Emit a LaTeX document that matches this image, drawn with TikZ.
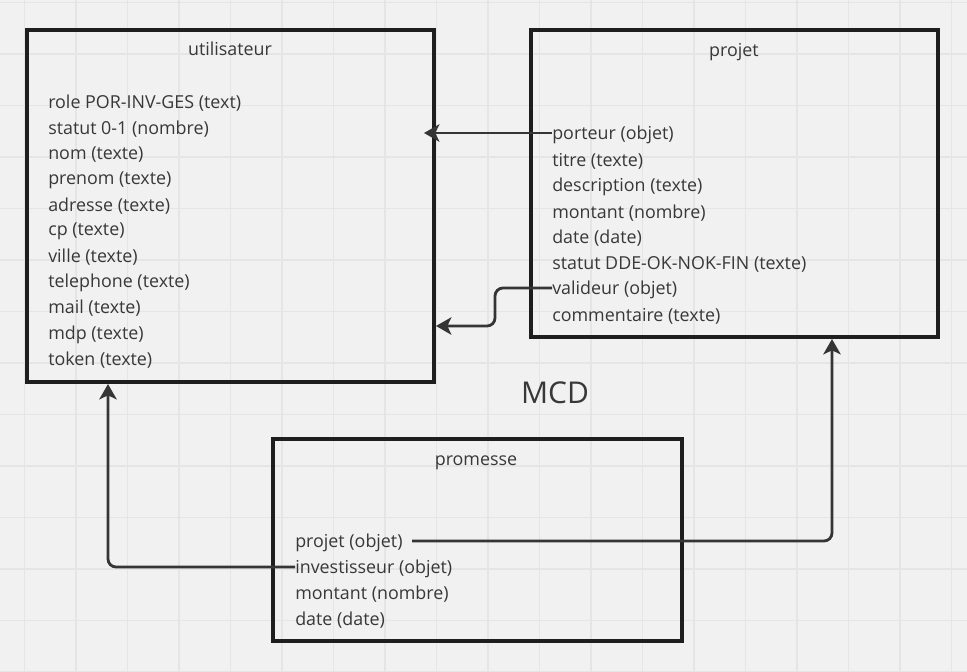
\documentclass[tikz,border=0pt]{standalone}
\usepackage{fontspec}
\setmainfont{Open Sans}
\usetikzlibrary{arrows.meta}
\definecolor{bg}{HTML}{F1F1F1}
\definecolor{gridc}{HTML}{E5E5E5}
\definecolor{ink}{HTML}{1E1E1E}
\definecolor{txt}{HTML}{383838}
\tikzset{
  entbox/.style={draw=ink, line width=2.6pt, minimum width=#1, anchor=north west, inner sep=0pt, outer sep=0pt},
  attr/.style={anchor=west, inner sep=0pt, text=txt, font=\fontsize{13.4pt}{15pt}\selectfont},
  ttl/.style={inner sep=0pt, text=txt, font=\fontsize{13.4pt}{15pt}\selectfont},
  link/.style={draw=ink!90, line width=2.1pt, rounded corners=6pt, -{Stealth[length=11.5pt,width=13pt,inset=3pt]}}
}
\begin{document}
\begin{tikzpicture}[x=0.75pt,y=-0.75pt]
\fill[bg] (0,0) rectangle (967,671);
\useasboundingbox (0,0) rectangle (967,671);
\foreach \k in {0,...,18} {\draw[gridc, line width=0.8pt] ({24.5+51.5*\k},0) -- ({24.5+51.5*\k},671);}
\foreach \k in {0,...,13} {\draw[gridc, line width=0.8pt] (0,{2.5+51.5*\k}) -- (967,{2.5+51.5*\k});}

% boxes
\node[entbox=305.25pt, minimum height=264pt] (ut) at (27,30) {};
\node[entbox=305.25pt, minimum height=230.25pt] (pj) at (531,30) {};
\node[entbox=306.75pt, minimum height=151.5pt] (pr) at (273,439) {};

% titles
\node[ttl] (utt) at (230,49) {utilisateur};
\node[ttl] (pjt) at (734,52) {projet};
\node[ttl] (prt) at (476,463) {promesse};
\node[inner sep=0pt, text=txt, font=\fontsize{22.5pt}{24pt}\selectfont] (mcd) at (555,393) {MCD};

% utilisateur attributes
\node[attr] (u1) at (48,103) {role POR-INV-GES (text)};
\node[attr] (u2) at (48,129) {statut 0-1 (nombre)};
\node[attr] (u3) at (48,154.5) {nom (texte)};
\node[attr] (u4) at (48,180.5) {prenom (texte)};
\node[attr] (u5) at (48,206) {adresse (texte)};
\node[attr] (u6) at (48,231.5) {cp (texte)};
\node[attr] (u7) at (48,257.5) {ville (texte)};
\node[attr] (u8) at (48,283) {telephone (texte)};
\node[attr] (u9) at (48,308.5) {mail (texte)};
\node[attr] (u10) at (48,334.5) {mdp (texte)};
\node[attr] (u11) at (48,360) {token (texte)};

% projet attributes
\node[attr] (porteur) at (552,135) {porteur (objet)};
\node[attr] (p2) at (552,161) {titre (texte)};
\node[attr] (p3) at (552,187) {description (texte)};
\node[attr] (p4) at (552,213) {montant (nombre)};
\node[attr] (p5) at (552,238.5) {date (date)};
\node[attr] (p6) at (552,264) {statut DDE-OK-NOK-FIN (texte)};
\node[attr] (valideur) at (552,290) {valideur (objet)};
\node[attr] (p8) at (552,316) {commentaire (texte)};

% promesse attributes
\node[attr] (rprojet) at (295,543) {projet (objet)};
\node[attr] (rinv) at (295,569) {investisseur (objet)};
\node[attr] (r3) at (295,594.5) {montant (nombre)};
\node[attr] (r4) at (295,620) {date (date)};

% connectors
\coordinate (s1) at (552,133);
\coordinate (c1) at (424,133);
\draw[link] (s1) -- (c1);
\coordinate (s2) at (552,288);
\coordinate (c2a) at (495,288);
\coordinate (c2b) at (495,326);
\coordinate (c2) at (436,326);
\draw[link] (s2) -- (c2a) -- (c2b) -- (c2);
\coordinate (s3) at (295,567);
\coordinate (c3a) at (108,567);
\coordinate (c3) at (108,384);
\draw[link] (s3) -- (c3a) -- (c3);
\coordinate (c4s) at (412,541);
\coordinate (c4a) at (832,541);
\coordinate (c4) at (832,339);
\draw[link] (c4s) -- (c4a) -- (c4);
\end{tikzpicture}
\end{document}
